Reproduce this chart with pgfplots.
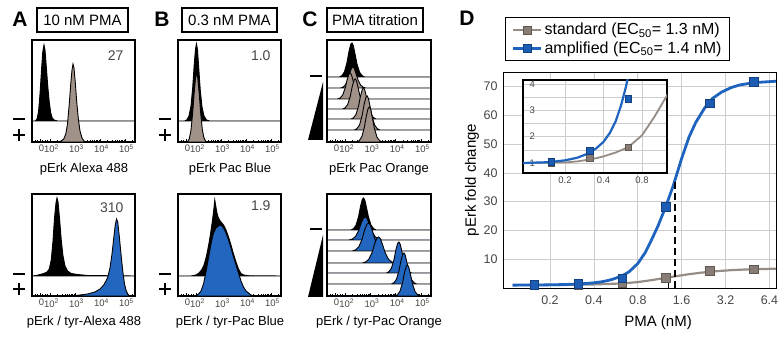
\documentclass[border=0pt]{standalone}
\usepackage{fontspec}
\setmainfont{Liberation Sans}
\usepackage{pgfplots}
\pgfplotsset{compat=1.18}
\definecolor{hgray}{RGB}{160,146,136}
\definecolor{hblue}{RGB}{35,102,192}
\definecolor{cgray}{RGB}{150,140,134}
\definecolor{mgray}{RGB}{135,125,118}
\definecolor{cblue}{RGB}{30,100,190}
\definecolor{mblue}{RGB}{28,92,178}
\definecolor{gridc}{RGB}{205,205,205}
\definecolor{txtgray}{RGB}{70,70,70}
\pgfplotsset{
 hist/.style={scale only axis, width=103pt, height=102pt, xmin=1.28, xmax=5.4, ymin=0, ymax=102,
  anchor=south west, axis line style={line width=1.2pt}, ytick=\empty,
  xtick={1.6,2,3,4,5},
  xticklabels={0,10\textsuperscript{2},10\textsuperscript{3},10\textsuperscript{4},10\textsuperscript{5}},
  minor xtick={1.4,1.5,1.7,1.8,1.9,2.301,2.477,2.602,2.699,2.778,2.845,2.903,2.954,3.301,3.477,3.602,3.699,3.778,3.845,3.903,3.954,4.301,4.477,4.602,4.699,4.778,4.845,4.903,4.954,5.301},
  tick align=inside, xtick pos=left, major tick length=3pt, minor tick length=1.6pt,
  tick style={black, line width=0.7pt},
  xticklabel style={font=\fontsize{9.5}{10}\selectfont, text=txtgray, yshift=1pt, xshift=1.5pt}},
 hl/.style={draw=black, line width=0.9pt},
}
\begin{document}
\begin{tikzpicture}[x=1pt,y=1pt]
\path[use as bounding box] (0,0) rectangle (778,337);

% ---------- panel letters and title boxes
\node[font=\fontsize{21}{21}\selectfont\bfseries] at (20,318) {A};
\node[font=\fontsize{21}{21}\selectfont\bfseries] at (162,318) {B};
\node[font=\fontsize{21}{21}\selectfont\bfseries] at (310,318) {C};
\node[font=\fontsize{21}{21}\selectfont\bfseries] at (467,319) {D};
\draw[line width=1.3pt] (37,329) rectangle (128,305);
\node[font=\fontsize{15}{15}\selectfont] at (82.5,317) {10 nM PMA};
\draw[line width=1.3pt] (182,329) rectangle (277,305);
\node[font=\fontsize{15}{15}\selectfont] at (229.5,317) {0.3 nM PMA};
\draw[line width=1.3pt] (327,329) rectangle (423,305);
\node[font=\fontsize{15}{15}\selectfont] at (375,317) {PMA titration};

% ---------- A top
\begin{axis}[hist, at={(32pt,195pt)}]
\addplot[hl, fill=black] coordinates {(1.28,21)(1.42,21)(1.48,23)(1.54,30)(1.60,48)(1.66,72)(1.71,90)(1.76,97)(1.80,92)(1.85,76)(1.91,56)(1.97,40)(2.03,29)(2.09,24)(2.16,22)(2.3,21)(5.4,21)} -- cycle;
\addplot[hl, fill=hgray] coordinates {(2.30,0)(2.45,1)(2.55,3)(2.63,8)(2.70,18)(2.77,38)(2.83,58)(2.88,72)(2.92,78)(2.96,74)(3.01,60)(3.07,40)(3.13,24)(3.20,11)(3.28,4)(3.36,1)(3.45,0)} -- cycle;
\end{axis}
% ---------- A bottom
\begin{axis}[hist, at={(32pt,41pt)}]
\addplot[hl, fill=black] coordinates {(1.28,20)(1.45,20.5)(1.6,21.5)(1.75,22.5)(1.88,24)(1.97,27)(2.05,36)(2.12,55)(2.18,78)(2.24,93)(2.28,98)(2.32,94)(2.38,78)(2.45,56)(2.52,40)(2.6,30)(2.7,25)(2.85,22.5)(3.1,21.5)(3.5,20.5)(5.4,20)} -- cycle;
\addplot[hl, fill=hblue] coordinates {(2.9,0)(3.2,1)(3.5,2)(3.8,4)(4.0,7)(4.15,11)(4.3,18)(4.4,28)(4.48,42)(4.55,58)(4.61,71)(4.66,77)(4.71,74)(4.77,60)(4.84,42)(4.91,25)(4.98,12)(5.05,5)(5.12,1.5)(5.2,0)} -- cycle;
\end{axis}
% ---------- B top
\begin{axis}[hist, at={(178pt,195pt)}]
\addplot[hl, fill=black] coordinates {(1.28,21)(1.55,21)(1.63,22)(1.72,26)(1.80,36)(1.87,55)(1.93,78)(1.98,93)(2.02,98)(2.06,92)(2.11,74)(2.17,52)(2.24,35)(2.32,26)(2.42,22)(2.55,21)(5.4,21)} -- cycle;
\addplot[hl, fill=hgray] coordinates {(1.65,0)(1.73,3)(1.80,12)(1.87,30)(1.93,50)(1.98,64)(2.02,69)(2.07,64)(2.13,48)(2.19,28)(2.25,13)(2.31,5)(2.38,1)(2.45,0)} -- cycle;
\end{axis}
% ---------- B bottom
\begin{axis}[hist, at={(178pt,41pt)}]
\addplot[hl, fill=black] coordinates {(1.28,20)(1.8,20)(2.0,21)(2.12,23)(2.22,26)(2.32,31)(2.42,40)(2.5,50)(2.58,62)(2.65,74)(2.71,86)(2.75,96)(2.79,90)(2.83,84)(2.88,79)(2.94,76)(3.0,74)(3.1,71)(3.2,66)(3.3,59)(3.4,51)(3.5,42)(3.6,34)(3.7,27)(3.8,22.5)(3.9,21)(4.1,20.3)(5.4,20)} -- cycle;
\addplot[hl, fill=hblue] coordinates {(1.95,0)(2.1,2)(2.2,5)(2.3,12)(2.4,24)(2.5,38)(2.6,52)(2.7,63)(2.8,68)(2.9,70)(3.0,71)(3.1,68)(3.2,63)(3.3,56)(3.4,48)(3.5,39)(3.6,31)(3.7,23)(3.8,15)(3.9,9)(4.0,5)(4.1,3)(4.2,1)(4.3,0)} -- cycle;
\end{axis}
% ---------- C top
\begin{axis}[hist, width=104pt, at={(327pt,195pt)}]
\addplot[hl, fill=black] coordinates {(1.28,65)(1.77,65)(1.87,66.4)(1.97,70.1)(2.07,79.3)(2.15,90.5)(2.22,97.6)(2.27,99)(2.32,96.6)(2.39,88.1)(2.47,77.9)(2.57,69.8)(2.67,66.4)(2.77,65)(5.4,65)} -- cycle;
\addplot[hl, fill=hgray] coordinates {(1.28,54)(1.81,54)(1.91,54.8)(2.01,57.2)(2.11,62.8)(2.19,69.8)(2.26,74.2)(2.31,75)(2.36,73.5)(2.43,68.3)(2.51,62)(2.61,56.9)(2.71,54.8)(2.81,54)(5.4,54)} -- cycle;
\addplot[hl, fill=hgray] coordinates {(1.28,43)(1.70,43)(1.80,44)(1.90,46.9)(2.00,53.9)(2.08,62.5)(2.15,68)(2.20,69)(2.25,67.2)(2.32,60.7)(2.40,52.9)(2.50,46.6)(2.60,44)(2.70,43)(5.4,43)} -- cycle;
\addplot[hl, fill=hgray] coordinates {(1.28,33)(1.90,33)(2.00,34.2)(2.10,37.5)(2.20,45.6)(2.28,55.5)(2.35,61.8)(2.40,63)(2.45,60.9)(2.52,53.4)(2.60,44.4)(2.70,37.2)(2.80,34.2)(2.90,33)(5.4,33)} -- cycle;
\addplot[hl, fill=hgray] coordinates {(1.28,23)(2.23,23)(2.33,24.2)(2.43,27.7)(2.53,36)(2.61,46.3)(2.68,52.8)(2.73,54)(2.78,51.8)(2.85,44.1)(2.93,34.8)(3.03,27.3)(3.13,24.2)(3.23,23)(5.4,23)} -- cycle;
\addplot[hl, fill=hgray] coordinates {(1.28,12)(2.37,12)(2.47,13.4)(2.57,17.1)(2.67,26.3)(2.75,37.5)(2.82,44.6)(2.87,46)(2.92,43.6)(2.99,35.1)(3.07,24.9)(3.17,16.8)(3.27,13.4)(3.37,12)(5.4,12)} -- cycle;
\addplot[hl, fill=hgray] coordinates {(1.28,0)(2.46,0)(2.56,1.4)(2.66,5.3)(2.76,14.7)(2.84,26.3)(2.91,33.6)(2.96,35)(3.01,32.6)(3.08,23.8)(3.16,13.3)(3.26,4.9)(3.36,1.4)(3.46,0)(5.4,0)} -- cycle;
\end{axis}
% ---------- C bottom
\begin{axis}[hist, width=104pt, at={(327pt,41pt)}]
\addplot[hl, fill=black] coordinates {(1.28,66)(2.23,66)(2.33,67.3)(2.43,70.8)(2.53,79.4)(2.61,90)(2.68,96.7)(2.73,98)(2.78,95.8)(2.85,87.8)(2.93,78.2)(3.03,70.5)(3.13,67.3)(3.23,66)(5.4,66)} -- cycle;
\addplot[hl, fill=hblue] coordinates {(1.28,56)(2.15,56)(2.28,56.9)(2.41,59.5)(2.54,65.7)(2.64,73.3)(2.735,78.1)(2.8,79)(2.865,77.4)(2.96,71.6)(3.06,64.7)(3.19,59.2)(3.32,56.9)(3.45,56)(5.4,56)} -- cycle;
\addplot[hl, fill=hblue] coordinates {(1.28,45)(2.28,45)(2.41,46.1)(2.54,49.2)(2.67,56.8)(2.77,66)(2.865,71.9)(2.93,73)(2.995,71)(3.09,64)(3.19,55.6)(3.32,48.9)(3.45,46.1)(3.58,45)(5.4,45)} -- cycle;
\addplot[hl, fill=hblue] coordinates {(1.28,33)(2.68,33)(2.81,34)(2.94,36.9)(3.07,43.9)(3.17,52.5)(3.265,58)(3.33,59)(3.395,57.2)(3.49,50.7)(3.59,42.9)(3.72,36.6)(3.85,34)(3.98,33)(5.4,33)} -- cycle;
\addplot[hl, fill=hblue] coordinates {(1.28,23)(3.63,23)(3.73,24.2)(3.83,27.7)(3.93,36)(4.01,46.3)(4.08,52.8)(4.13,54)(4.18,51.8)(4.25,44.1)(4.33,34.8)(4.43,27.3)(4.53,24.2)(4.63,23)(5.4,23)} -- cycle;
\addplot[hl, fill=hblue] coordinates {(1.28,12)(3.83,12)(3.93,13.2)(4.03,16.7)(4.13,25)(4.21,35.3)(4.28,41.8)(4.33,43)(4.38,40.8)(4.45,33.1)(4.53,23.8)(4.63,16.3)(4.73,13.2)(4.83,12)(5.4,12)} -- cycle;
\addplot[hl, fill=hblue] coordinates {(1.28,0)(3.97,0)(4.07,1.2)(4.17,4.7)(4.27,13)(4.35,23.3)(4.42,29.8)(4.47,31)(4.52,28.8)(4.59,21.1)(4.67,11.8)(4.77,4.3)(4.87,1.2)(4.97,0)(5.4,0)} -- cycle;
\end{axis}

% ---------- numbers, signs and labels of the histograms
\node[anchor=east, font=\fontsize{14}{14}\selectfont, text=txtgray] at (127,281) {27};
\node[anchor=east, font=\fontsize{14}{14}\selectfont, text=txtgray] at (127,129) {310};
\node[anchor=east, font=\fontsize{14}{14}\selectfont, text=txtgray] at (274,281) {1.0};
\node[anchor=east, font=\fontsize{14}{14}\selectfont, text=txtgray] at (274,131) {1.9};
\foreach \xc in {19,165}{
 \draw[line width=2.6pt] (\xc-6,218) -- (\xc+6,218);
 \draw[line width=2.6pt] (\xc-6,202) -- (\xc+6,202) (\xc,196) -- (\xc,208);
 \draw[line width=2.6pt] (\xc-6,63) -- (\xc+6,63);
 \draw[line width=2.6pt] (\xc-6,48) -- (\xc+6,48) (\xc,42) -- (\xc,54);
}
\draw[line width=2.6pt] (310,261) -- (322,261);
\fill (308,197) -- (323,197) -- (323,255) -- cycle;
\draw[line width=2.6pt] (310,108) -- (322,108);
\fill (308,40) -- (323,40) -- (323,102) -- cycle;
\node[anchor=base, font=\fontsize{13}{13}\selectfont] at (84,164) {pErk Alexa 488};
\node[anchor=base, font=\fontsize{13}{13}\selectfont] at (230,164) {pErk Pac Blue};
\node[anchor=base, font=\fontsize{13}{13}\selectfont] at (379,164) {pErk Pac Orange};
\node[anchor=base, font=\fontsize{13}{13}\selectfont] at (84,12) {pErk / tyr-Alexa 488};
\node[anchor=base, font=\fontsize{13}{13}\selectfont] at (230,12) {pErk / tyr-Pac Blue};
\node[anchor=base, font=\fontsize{13}{13}\selectfont] at (379,12) {pErk / tyr-Pac Orange};

% ---------- D main
\begin{axis}[scale only axis, width=273pt, height=216pt, at={(503pt,49pt)}, anchor=south west,
  xmode=log, log basis x=2, xmin=0.0952, xmax=7.1, ymin=0, ymax=75,
  xtick={0.2,0.4,0.8,1.6,3.2,6.4}, xticklabels={0.2,0.4,0.8,1.6,3.2,6.4},
  ytick={10,20,30,40,50,60,70},
  xmajorgrids=true, ymajorgrids=true, grid style={gridc, line width=0.6pt},
  major tick length=0pt, minor tick length=0pt, axis line style={line width=0.8pt},
  tick label style={font=\fontsize{12.5}{13}\selectfont, text=txtgray},
  xticklabel style={yshift=-4pt}, yticklabel style={xshift=-2pt},
  /pgf/number format/assume math mode=true,
  legend style={at={(axis description cs:0.007,1.05)}, anchor=south west, draw=black, line width=1.3pt,
    font=\fontsize{16}{18}\selectfont, inner xsep=6pt, inner ysep=4pt, row sep=1pt,
    /tikz/every even column/.append style={column sep=5pt}},
  legend cell align=left,
  legend image code/.code={\draw[mark repeat=2,mark phase=2] plot coordinates {(0pt,0pt)(14pt,0pt)(28pt,0pt)};}]
\addlegendimage{cgray, line width=2.8pt, mark=square*, mark size=4pt, mark options={fill=mgray, draw=mgray!70!black, line width=0.5pt}}
\addlegendentry{standard (EC\textsubscript{50}= 1.3 nM)}
\addlegendimage{cblue, line width=3pt, mark=square*, mark size=4pt, mark options={fill=mblue, draw=mblue!70!black, line width=0.5pt}}
\addlegendentry{amplified (EC\textsubscript{50}= 1.4 nM)}
\addplot[cgray, line width=2.2pt, forget plot] coordinates {(0.111,1.0)(0.2,1.02)(0.25,1.06)(0.3,1.12)(0.35,1.18)(0.4,1.25)(0.5,1.4)(0.625,1.6)(0.8,2.05)(1.0,2.75)(1.25,3.55)(1.5,4.2)(1.8,4.8)(2.2,5.35)(2.8,5.85)(3.5,6.2)(4.5,6.45)(7.1,6.7)};
\addplot[cblue, line width=2.8pt, forget plot] coordinates {(0.111,1.0)(0.15,1.03)(0.2,1.1)(0.25,1.2)(0.3,1.35)(0.35,1.55)(0.4,1.8)(0.45,2.15)(0.5,2.6)(0.55,3.2)(0.6,3.9)(0.65,4.7)(0.7,5.7)(0.8,8.5)(0.9,12.3)(1.0,17)(1.1,21.5)(1.25,28.5)(1.4,35.5)(1.6,45)(1.8,52.5)(2.0,57.5)(2.3,62.5)(2.6,65.8)(3.0,68)(3.5,69.6)(4.0,70.5)(5.0,71.3)(7.1,71.8)};
\addplot[black, line width=1.4pt, forget plot] coordinates {(1.30,0)(1.30,3.6)};
\addplot[black, line width=1.6pt, dash pattern=on 7pt off 4pt, forget plot] coordinates {(1.44,0)(1.44,37)};
\addplot[only marks, mark=square*, mark size=4.3pt, mark options={fill=mgray, draw=mgray!70!black, line width=0.5pt}, forget plot] coordinates {(0.156,1.0)(0.3125,1.2)(0.625,1.6)(1.25,3.6)(2.5,5.9)(5,6.5)};
\addplot[only marks, mark=square*, mark size=4.3pt, mark options={fill=mblue, draw=mblue!70!black, line width=0.5pt}, forget plot] coordinates {(0.156,1.05)(0.3125,1.45)(0.625,3.45)(1.25,28.2)(2.5,64.2)(5,71.6)};
\end{axis}
\node[rotate=90, font=\fontsize{15}{15}\selectfont] at (472,157) {pErk fold change};
\node[font=\fontsize{15}{15}\selectfont] at (658,14) {PMA (nM)};

% ---------- D inset
\begin{axis}[scale only axis, width=144pt, height=93pt, at={(523pt,164pt)}, anchor=south west,
  xmode=log, log basis x=2, xmin=0.094, xmax=1.255, ymin=0.62, ymax=4.15,
  xtick={0.2,0.4,0.8}, xticklabels={0.2,0.4,0.8}, ytick={1,2,3,4}, minor ytick={1.5,2.5,3.5},
  xmajorgrids=true, ymajorgrids=true, yminorgrids=true,
  grid style={gridc, line width=0.5pt}, minor grid style={gridc, line width=0.5pt},
  major tick length=0pt, minor tick length=0pt, axis line style={line width=1.6pt},
  axis background/.style={fill=white},
  tick label style={font=\fontsize{9.5}{10}\selectfont, text=txtgray},
  yticklabel style={anchor=west, xshift=3pt},
  /pgf/number format/assume math mode=true]
\addplot[cgray, line width=1.8pt] coordinates {(0.094,1.0)(0.2,1.02)(0.25,1.06)(0.3,1.12)(0.35,1.18)(0.4,1.25)(0.5,1.4)(0.625,1.6)(0.8,2.05)(1.0,2.75)(1.25,3.55)(1.5,4.2)};
\addplot[cblue, line width=2.2pt] coordinates {(0.094,1.0)(0.15,1.03)(0.2,1.1)(0.25,1.2)(0.3,1.35)(0.35,1.55)(0.4,1.8)(0.45,2.15)(0.5,2.6)(0.55,3.2)(0.6,3.9)(0.65,4.7)(0.7,5.7)};
\addplot[only marks, mark=square*, mark size=3.4pt, mark options={fill=mgray, draw=mgray!70!black, line width=0.5pt}] coordinates {(0.156,1.0)(0.3125,1.2)(0.625,1.6)};
\addplot[only marks, mark=square*, mark size=3.4pt, mark options={fill=mblue, draw=mblue!70!black, line width=0.5pt}] coordinates {(0.156,1.05)(0.3125,1.45)(0.625,3.45)};
\end{axis}
\end{tikzpicture}
\end{document}
